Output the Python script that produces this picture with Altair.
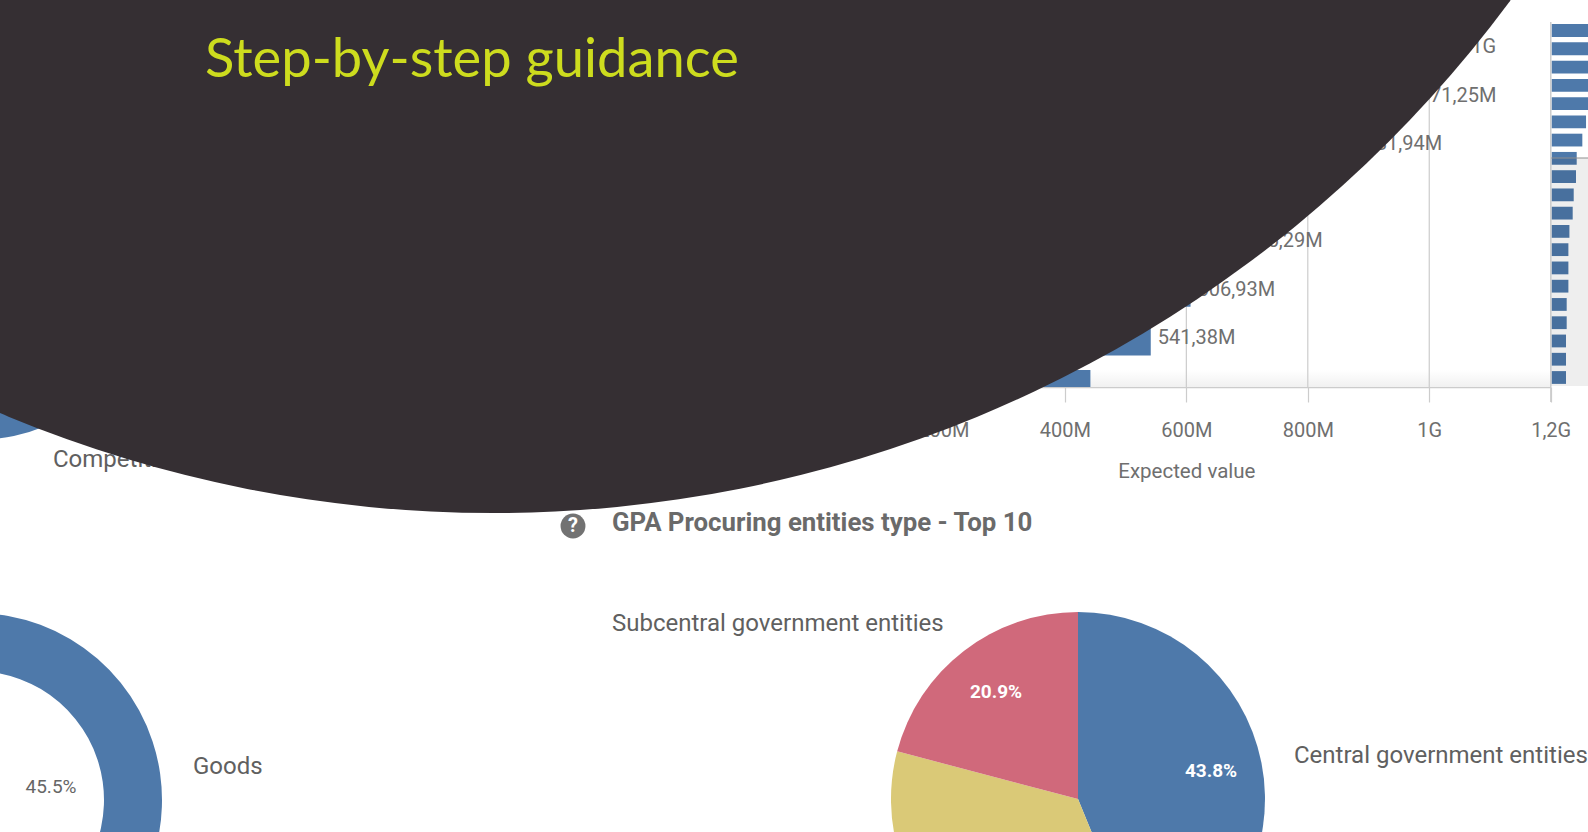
import altair as alt
import pandas as pd

# Expected value per row, in millions, largest first
expected_values = [1014, 971.25, 881.94, 690.12, 685.29, 606.93, 541.38, 442,
                   429, 389, 371, 313, 295, 295, 295, 265, 265, 253, 253, 253]
axis_ticks = [0, 200, 400, 600, 800, 1000, 1200]

goods_labels = ["Goods", "Services"]
goods_shares = [0.455, 0.545]
competitive_labels = ["Competitive", "Limited"]
competitive_shares = [0.70, 0.30]
entity_labels = ["Central government entities", "Other entities", "Subcentral government entities"]
entity_shares = [0.438, 0.353, 0.209]

BLUE, RED, YELLOW = "#4e79aa", "#d0697b", "#dac977"
DARK = "#352f33"
TEXT = "#6f6f6f"
GRID = "#cccccc"
FONT = "Roboto"

rows = pd.DataFrame({"value": expected_values, "rank": range(len(expected_values))})
ticks = pd.DataFrame({"value": axis_ticks})
anchor = pd.DataFrame({"a": [0]})

value_x = alt.Scale(domain=[0, 1200], range=[822, 1550.7])
row_y = alt.Scale(domain=[0, 7], range=[47, 387])


def label_expr(d):
    return (f"{d}.value >= 1000 ? replace(format({d}.value/1000,'.2f'),'.',',') + 'G'"
            f" : replace(format({d}.value,'.2f'),'.',',') + 'M'")


# Faint shading just above the axis line
axis_fade = alt.Chart(anchor).mark_rect(
    color=alt.Gradient(gradient="linear", x1=0, x2=0, y1=0, y2=1,
                       stops=[alt.GradientStop(color="#ffffff", offset=0),
                              alt.GradientStop(color="#f1f1f1", offset=1)])
).encode(x=alt.value(822), x2=alt.value(1550), y=alt.value(370), y2=alt.value(387))

# Vertical gridlines behind the bars
grid = alt.Chart(ticks).mark_rule(color=GRID, strokeWidth=1.2).encode(
    x=alt.X("value:Q", scale=value_x, axis=None),
    y=alt.value(22),
    y2=alt.value(387),
)

# Main horizontal bars; the eighth row is cut off at the axis line
main_bars = alt.Chart(rows).transform_filter("datum.rank < 8").transform_calculate(
    zero="0", top="datum.rank - 0.35", bottom="min(datum.rank + 0.35, 7)"
).mark_rect(color=BLUE).encode(
    x=alt.X("value:Q", scale=value_x, title="Expected value", axis=alt.Axis(
        values=axis_ticks, offset=-445, tickSize=15, tickColor=GRID, tickWidth=1.2,
        domainColor=GRID, domainWidth=1.5, labelFont=FONT, labelFontSize=20, labelColor=TEXT,
        labelPadding=18, labelFlush=False,
        labelExpr="datum.value >= 1000 ? replace(format(datum.value/1000,'~g'),'.',',') + 'G' : datum.value + 'M'",
        titleFont=FONT, titleFontSize=20.5, titleFontWeight="normal", titleColor=TEXT, titlePadding=21,
        grid=False, zindex=0,
    )),
    x2="zero:Q",
    y=alt.Y("top:Q", scale=row_y, axis=None),
    y2="bottom:Q",
)

main_labels = alt.Chart(rows).transform_filter("datum.rank < 7").transform_calculate(
    label=label_expr("datum")
).mark_text(align="left", baseline="middle", dx=7, font=FONT, fontSize=20, color=TEXT).encode(
    x=alt.X("value:Q", scale=value_x, axis=None),
    y=alt.Y("rank:Q", scale=row_y, axis=None),
    text="label:N",
)

# Scrollbar overview on the right edge
mini_x = alt.Scale(domain=[0, 1200], range=[1551.7, 1619.6])
mini_y = alt.Scale(domain=[0, 19], range=[30.5, 377.5])
mini_bars = alt.Chart(rows).transform_calculate(
    zero="0", top="datum.rank - 0.35", bottom="datum.rank + 0.35"
).mark_rect(color=BLUE).encode(
    x=alt.X("value:Q", scale=mini_x, axis=None),
    x2="zero:Q",
    y=alt.Y("top:Q", scale=mini_y, axis=None),
    y2="bottom:Q",
)
mini_shade = alt.Chart(anchor).mark_rect(color="#000000", opacity=0.065).encode(
    x=alt.value(1551), x2=alt.value(1588), y=alt.value(158), y2=alt.value(386),
)
mini_edge = alt.Chart(anchor).mark_rule(color="#8f8f8f", strokeWidth=1).encode(
    x=alt.value(1551), x2=alt.value(1588), y=alt.value(158),
)
mini_tick = alt.Chart(anchor).mark_rule(color=GRID, strokeWidth=1.2).encode(
    x=alt.value(1550.7), y=alt.value(22), y2=alt.value(402),
)


def pie(labels, shares, colors, cx, cy, inner):
    frame = pd.DataFrame({"label": labels, "share": shares, "order": range(len(labels))})
    return alt.Chart(frame).mark_arc(outerRadius=187, innerRadius=inner).encode(
        theta=alt.Theta("share:Q", stack=True, scale=alt.Scale(domain=[0, 1])),
        order=alt.Order("order:Q"),
        color=alt.Color("label:N", scale=alt.Scale(domain=labels, range=colors), legend=None),
        x=alt.value(cx),
        y=alt.value(cy),
    )


def share_label(labels, shares, name, x, y, color, weight="normal"):
    frame = pd.DataFrame({"label": labels, "share": shares})
    return alt.Chart(frame).transform_filter(alt.datum.label == name).mark_text(
        font=FONT, fontSize=19, color=color, fontWeight=weight, baseline="middle"
    ).encode(x=alt.value(x), y=alt.value(y), text=alt.Text("share:Q", format=".1%"))


def caption(text, x, y, size=24, color="#606060", weight="normal", align="left", font=FONT):
    return alt.Chart(pd.DataFrame({"t": [text]})).mark_text(
        font=font, fontSize=size, color=color, fontWeight=weight, align=align, baseline="middle"
    ).encode(x=alt.value(x), y=alt.value(y), text="t:N")


competitive = pie(competitive_labels, competitive_shares, [BLUE, RED], -25, 253, 129)
goods = pie(goods_labels, goods_shares, [BLUE, RED], -25, 800, 129)
entities = pie(entity_labels, entity_shares, [BLUE, YELLOW, RED], 1078, 799, 0)

# Help icon beside the panel heading
help_dot = alt.Chart(anchor).mark_circle(color="#727272", size=620, opacity=1).encode(
    x=alt.value(573), y=alt.value(526),
)
help_mark = caption("?", 573, 526, size=20, color="#ffffff", weight="bold", align="center")

# Large dark disc across the top of the slide, with its heading on top
disc = alt.Chart(anchor).mark_arc(
    outerRadius=1266, innerRadius=0, theta=0, theta2=6.2832, color=DARK
).encode(x=alt.value(493), y=alt.value(-753))
heading = caption("Step-by-step guidance", 205, 61, size=54.3, color="#cddc1e", font="Lato")

chart = alt.layer(
    axis_fade, grid, main_bars, main_labels, mini_bars, mini_shade, mini_edge, mini_tick,
    competitive, goods, entities,
    share_label(goods_labels, goods_shares, "Goods", 51, 787, "#666666"),
    share_label(entity_labels, entity_shares, "Subcentral government entities", 996, 692, "#ffffff", "bold"),
    share_label(entity_labels, entity_shares, "Central government entities", 1211, 771, "#ffffff", "bold"),
    caption("Competitive", 53, 460),
    caption("Goods", 193, 767),
    caption("Subcentral government entities", 612, 624),
    caption("Central government entities", 1294, 756),
    caption("GPA Procuring entities type - Top 10", 612, 523, size=25.8, color="#6a6a6a", weight="bold"),
    help_dot, help_mark,
    disc, heading,
).resolve_scale(x="independent", y="independent", color="independent", theta="independent").properties(
    width=1588, height=832, padding=0, autosize=alt.AutoSizeParams(type="none"),
    background="#ffffff",
).configure_view(stroke=None)

chart.save("out.html", embed_options={"renderer": "svg", "actions": False})
